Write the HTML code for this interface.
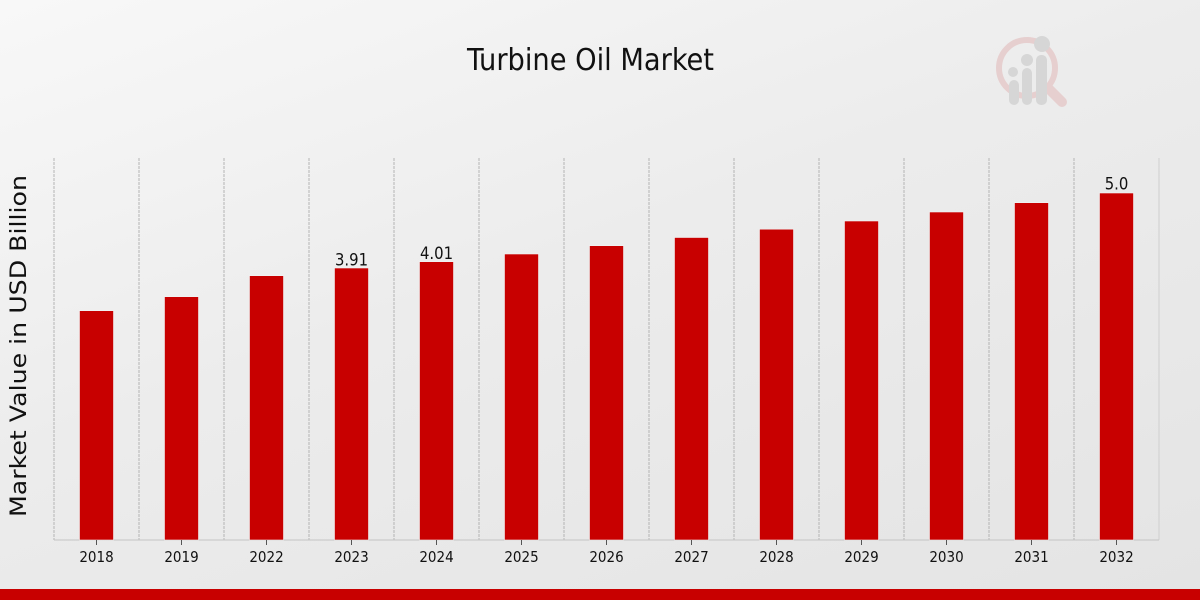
<!DOCTYPE html>
<html>
<head>
<meta charset="utf-8">
<style>
html,body{margin:0;padding:0;}
body{width:1200px;height:600px;overflow:hidden;background:linear-gradient(160deg,#f8f8f8 0%,#ececec 45%,#e4e4e4 100%);}
svg{display:block;}
text{font-family:"DejaVu Sans Condensed","DejaVu Sans","Liberation Sans",sans-serif;fill:#111;}
</style>
</head>
<body>
<svg width="1200" height="600" viewBox="0 0 1200 600" xmlns="http://www.w3.org/2000/svg">
  <!-- title -->
  <text x="590.5" y="70" font-size="30" text-anchor="middle" textLength="247" lengthAdjust="spacingAndGlyphs">Turbine Oil Market</text>

  <!-- logo -->
  <g opacity="0.9">
    <circle cx="1027" cy="68" r="28" fill="none" stroke="#e6cccc" stroke-width="6"/>
    <line x1="1048" y1="88" x2="1062" y2="102" stroke="#e6cccc" stroke-width="10" stroke-linecap="round"/>
    <rect x="1009" y="80" width="10" height="25" rx="5" fill="#d4d4d4"/>
    <rect x="1022" y="68" width="10" height="37" rx="5" fill="#d4d4d4"/>
    <rect x="1036" y="55" width="11" height="50" rx="5" fill="#d4d4d4"/>
    <circle cx="1013" cy="72" r="5" fill="#d4d4d4"/>
    <circle cx="1027" cy="60" r="6" fill="#d4d4d4"/>
    <circle cx="1042" cy="44" r="8" fill="#d4d4d4"/>
  </g>

  <!-- y axis label -->
  <text transform="translate(26,346) rotate(-90)" font-size="22" text-anchor="middle" textLength="342" lengthAdjust="spacingAndGlyphs" style="font-family:'DejaVu Sans','Liberation Sans',sans-serif;">Market Value in USD Billion</text>

  <!-- grid lines -->
  <g stroke="#b4b4b4" stroke-width="1" stroke-dasharray="3,1">
    <line x1="54" y1="158" x2="54" y2="540"/>
    <line x1="139" y1="158" x2="139" y2="540"/>
    <line x1="224" y1="158" x2="224" y2="540"/>
    <line x1="309" y1="158" x2="309" y2="540"/>
    <line x1="394" y1="158" x2="394" y2="540"/>
    <line x1="479" y1="158" x2="479" y2="540"/>
    <line x1="564" y1="158" x2="564" y2="540"/>
    <line x1="649" y1="158" x2="649" y2="540"/>
    <line x1="734" y1="158" x2="734" y2="540"/>
    <line x1="819" y1="158" x2="819" y2="540"/>
    <line x1="904" y1="158" x2="904" y2="540"/>
    <line x1="989" y1="158" x2="989" y2="540"/>
    <line x1="1074" y1="158" x2="1074" y2="540"/>
  </g>
  <line x1="1159" y1="158" x2="1159" y2="540" stroke="#cfcfcf" stroke-width="1"/>
  <line x1="54" y1="540" x2="1159" y2="540" stroke="#c4c4c4" stroke-width="1"/>

  <!-- bars -->
  <g fill="#c80000" stroke="#f2f2f2" stroke-width="0.6">
    <rect x="79.5" y="310.7" width="34" height="229.3"/>
    <rect x="164.5" y="296.7" width="34" height="243.3"/>
    <rect x="249.5" y="275.7" width="34" height="264.3"/>
    <rect x="334.5" y="268" width="34" height="272"/>
    <rect x="419.5" y="261.7" width="34" height="278.3"/>
    <rect x="504.5" y="254" width="34" height="286"/>
    <rect x="589.5" y="245.7" width="34" height="294.3"/>
    <rect x="674.5" y="237.5" width="34" height="302.5"/>
    <rect x="759.5" y="229.2" width="34" height="310.8"/>
    <rect x="844.5" y="221" width="34" height="319"/>
    <rect x="929.5" y="212" width="34" height="328"/>
    <rect x="1014.5" y="202.7" width="34" height="337.3"/>
    <rect x="1099.5" y="193" width="34" height="347"/>
  </g>

  <!-- value labels -->
  <g font-size="16.5" text-anchor="middle">
    <text x="351.5" y="265.5">3.91</text>
    <text x="436.5" y="259">4.01</text>
    <text x="1116.5" y="189.5">5.0</text>
  </g>

  <!-- ticks -->
  <g stroke="#555" stroke-width="1">
    <line x1="96.5" y1="540" x2="96.5" y2="545"/>
    <line x1="181.5" y1="540" x2="181.5" y2="545"/>
    <line x1="266.5" y1="540" x2="266.5" y2="545"/>
    <line x1="351.5" y1="540" x2="351.5" y2="545"/>
    <line x1="436.5" y1="540" x2="436.5" y2="545"/>
    <line x1="521.5" y1="540" x2="521.5" y2="545"/>
    <line x1="606.5" y1="540" x2="606.5" y2="545"/>
    <line x1="691.5" y1="540" x2="691.5" y2="545"/>
    <line x1="776.5" y1="540" x2="776.5" y2="545"/>
    <line x1="861.5" y1="540" x2="861.5" y2="545"/>
    <line x1="946.5" y1="540" x2="946.5" y2="545"/>
    <line x1="1031.5" y1="540" x2="1031.5" y2="545"/>
    <line x1="1116.5" y1="540" x2="1116.5" y2="545"/>
  </g>

  <!-- tick labels -->
  <g font-size="15" text-anchor="middle">
    <text x="96.5" y="562">2018</text>
    <text x="181.5" y="562">2019</text>
    <text x="266.5" y="562">2022</text>
    <text x="351.5" y="562">2023</text>
    <text x="436.5" y="562">2024</text>
    <text x="521.5" y="562">2025</text>
    <text x="606.5" y="562">2026</text>
    <text x="691.5" y="562">2027</text>
    <text x="776.5" y="562">2028</text>
    <text x="861.5" y="562">2029</text>
    <text x="946.5" y="562">2030</text>
    <text x="1031.5" y="562">2031</text>
    <text x="1116.5" y="562">2032</text>
  </g>

  <!-- bottom red band -->
  <rect x="0" y="589" width="1200" height="11" fill="#c80000"/>
</svg>
</body>
</html>
